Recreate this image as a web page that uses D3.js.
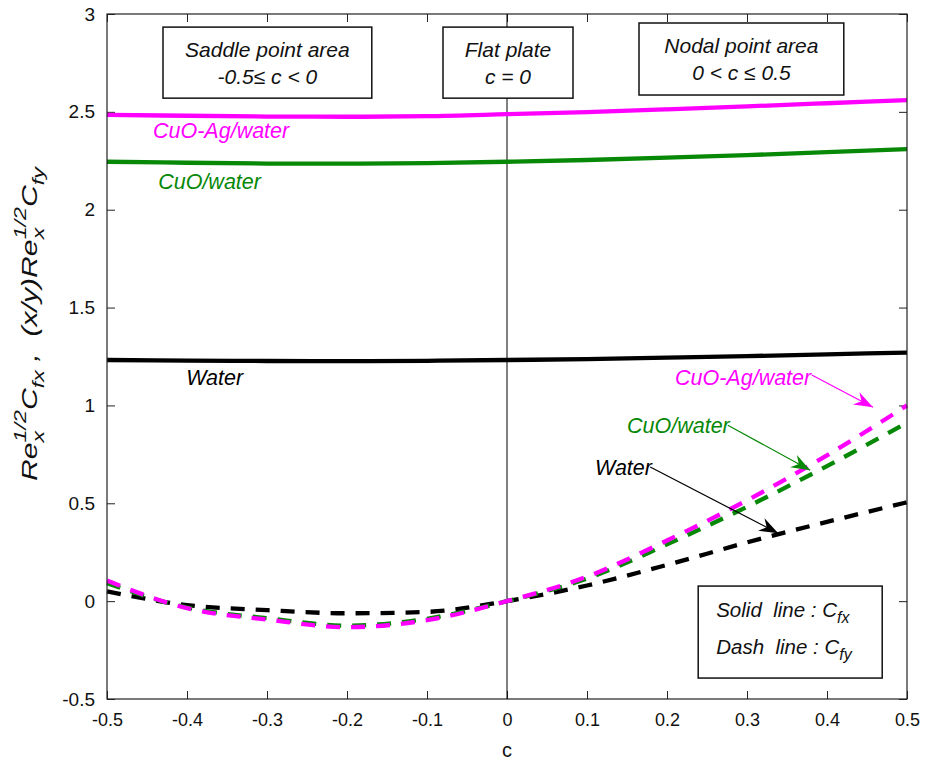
<!DOCTYPE html>
<html>
<head>
<meta charset="utf-8">
<script src="https://cdn.jsdelivr.net/npm/d3@7"></script>
<style>
  body { margin: 0; background: #fff; }
  svg text { font-family: "Liberation Sans", Arial, Helvetica, sans-serif; }
</style>
</head>
<body>
<div id="wrapper"></div>
<script>
// c values
const cValues = [-0.5, -0.4, -0.3, -0.2, -0.1, 0, 0.1, 0.2, 0.3, 0.4, 0.5];

// solid lines : Cfx
const cfxCuOAg = [2.485, 2.48, 2.476, 2.475, 2.478, 2.488, 2.499, 2.513, 2.528, 2.544, 2.56];
const cfxCuO   = [2.245, 2.24, 2.236, 2.235, 2.238, 2.245, 2.254, 2.266, 2.279, 2.294, 2.31];
const cfxWater = [1.232, 1.229, 1.227, 1.226, 1.228, 1.232, 1.237, 1.244, 1.252, 1.261, 1.27];

// dashed lines : Cfy
const cfyCuOAg = [0.105, -0.036, -0.094, -0.133, -0.097, 0, 0.125, 0.31, 0.515, 0.745, 1.0];
const cfyCuO   = [0.092, -0.033, -0.087, -0.125, -0.09, 0, 0.115, 0.29, 0.482, 0.69, 0.912];
const cfyWater = [0.05, -0.02, -0.046, -0.062, -0.055, 0, 0.08, 0.185, 0.3, 0.405, 0.505];

const xTicks = [-0.5, -0.4, -0.3, -0.2, -0.1, 0, 0.1, 0.2, 0.3, 0.4, 0.5];
const yTicks = [-0.5, 0, 0.5, 1, 1.5, 2, 2.5, 3];

const colors = { cuoag: "#ff00ff", cuo: "#078807", water: "#000000" };

const series = [
  { key: "cuoag", vals: cfxCuOAg, dash: false },
  { key: "cuo", vals: cfxCuO, dash: false },
  { key: "water", vals: cfxWater, dash: false },
  { key: "water", vals: cfyWater, dash: true },
  { key: "cuo", vals: cfyCuO, dash: true },
  { key: "cuoag", vals: cfyCuOAg, dash: true },
];

const width = 936, height = 768;
const margin = { left: 107, right: 29, top: 14, bottom: 69 };

const svg = d3.select("#wrapper").append("svg")
  .attr("width", width).attr("height", height);

const x = d3.scaleLinear().domain([-0.5, 0.5]).range([margin.left, width - margin.right]);
const y = d3.scaleLinear().domain([-0.5, 3]).range([height - margin.bottom, margin.top]);

const defs = svg.append("defs");
Object.entries(colors).forEach(([k, col]) => {
  defs.append("marker")
    .attr("id", "arrow-" + k)
    .attr("markerUnits", "userSpaceOnUse")
    .attr("viewBox", "-20 -8 22 16")
    .attr("refX", 0).attr("refY", 0)
    .attr("markerWidth", 22).attr("markerHeight", 16)
    .attr("orient", "auto")
    .append("path")
    .attr("d", "M0,0 L-19,-7 L-13,0 L-19,7 Z")
    .attr("fill", col);
});

// axes (inside ticks, mirrored like the original)
const tickLen = 8;
const axisFont = 18;
const fmt = d => String(d);

svg.append("g")
  .attr("transform", `translate(0,${y(-0.5)})`)
  .call(d3.axisBottom(x).tickValues(xTicks).tickSizeInner(-tickLen).tickSizeOuter(0)
    .tickPadding(14).tickFormat(fmt))
  .call(g => g.select(".domain").remove())
  .call(g => g.selectAll("text").attr("font-size", axisFont).attr("fill", "#111"));

svg.append("g")
  .attr("transform", `translate(0,${y(3)})`)
  .call(d3.axisTop(x).tickValues(xTicks).tickSizeInner(-tickLen).tickSizeOuter(0).tickFormat(""))
  .call(g => g.select(".domain").remove());

svg.append("g")
  .attr("transform", `translate(${x(-0.5)},0)`)
  .call(d3.axisLeft(y).tickValues(yTicks).tickSizeInner(-tickLen).tickSizeOuter(0)
    .tickPadding(12).tickFormat(fmt))
  .call(g => g.select(".domain").remove())
  .call(g => g.selectAll("text").attr("font-size", 19).attr("fill", "#111"));

svg.append("g")
  .attr("transform", `translate(${x(0.5)},0)`)
  .call(d3.axisRight(y).tickValues(yTicks).tickSizeInner(-tickLen).tickSizeOuter(0).tickFormat(""))
  .call(g => g.select(".domain").remove());

svg.selectAll(".tick line").attr("stroke", "#222");

// vertical line at c = 0
svg.append("line")
  .attr("x1", x(0)).attr("x2", x(0))
  .attr("y1", y(3)).attr("y2", y(-0.5))
  .attr("stroke", "#000").attr("stroke-width", 1);

// curves
const line = d3.line()
  .x((d, i) => x(cValues[i]))
  .y(d => y(d))
  .curve(d3.curveMonotoneX);

const plot = svg.append("g");
plot.selectAll("path")
  .data(series)
  .enter()
  .append("path")
  .attr("d", d => line(d.vals))
  .attr("fill", "none")
  .attr("stroke", d => colors[d.key])
  .attr("stroke-width", 4.3)
  .attr("stroke-dasharray", d => d.dash ? "14,11" : null);

// plot frame
svg.append("rect")
  .attr("x", x(-0.5)).attr("y", y(3))
  .attr("width", x(0.5) - x(-0.5)).attr("height", y(-0.5) - y(3))
  .attr("fill", "none").attr("stroke", "#222").attr("stroke-width", 1.2);

// helper: rich text with sub/superscripts, groups drawn side by side
function richText(parent, groups, size, fitLen) {
  const g = parent.append("g");
  let cx = 0;
  groups.forEach(grp => {
    let w = 0;
    grp.forEach(p => {
      const t = g.append("text")
        .attr("x", cx).attr("y", p.dy || 0)
        .attr("font-size", p.s || size)
        .attr("font-style", "italic")
        .attr("fill", p.fill || "#111")
        .style("white-space", "pre")
        .text(p.t);
      w = Math.max(w, t.node().getComputedTextLength());
    });
    cx += w;
  });
  if (fitLen) {
    const k = fitLen / cx;
    g.attr("transform", `translate(${-fitLen / 2},0) scale(${k},1)`);
  }
  return g;
}

// y axis label
const yLab = svg.append("g").attr("transform", "translate(37,324) rotate(-90)");
richText(yLab, [
  [{ t: "Re" }],
  [{ t: "x", s: 17, dy: 7 }, { t: "1/2", s: 17, dy: -11 }],
  [{ t: "C" }],
  [{ t: "fx", s: 17, dy: 7 }],
  [{ t: " ,  (x/y)Re" }],
  [{ t: "x", s: 17, dy: 7 }, { t: "1/2", s: 17, dy: -11 }],
  [{ t: "C" }],
  [{ t: "fy", s: 17, dy: 7 }],
], 22, 314);

// x axis label
svg.append("text")
  .attr("x", x(0)).attr("y", 757)
  .attr("text-anchor", "middle")
  .attr("font-size", 20).attr("fill", "#111")
  .text("c");

// region boxes
const regionBoxes = [
  { x0: -0.43, x1: -0.169, y0: 2.933, y1: 2.57, l1: "Saddle point area", l2: "-0.5\u2264 c < 0" },
  { x0: -0.08, x1: 0.0825, y0: 2.933, y1: 2.57, l1: "Flat plate", l2: "c = 0" },
  { x0: 0.165, x1: 0.421, y0: 2.954, y1: 2.586, l1: "Nodal point area", l2: "0 < c \u2264 0.5" },
];
regionBoxes.forEach(b => {
  svg.append("rect")
    .attr("x", x(b.x0)).attr("y", y(b.y0))
    .attr("width", x(b.x1) - x(b.x0)).attr("height", y(b.y1) - y(b.y0))
    .attr("fill", "#fff").attr("stroke", "#111").attr("stroke-width", 1.5);
  const cx = (x(b.x0) + x(b.x1)) / 2;
  const top = y(b.y0);
  svg.append("text").attr("x", cx).attr("y", top + 30)
    .attr("text-anchor", "middle").attr("font-size", 21).attr("font-style", "italic")
    .attr("fill", "#111").text(b.l1);
  svg.append("text").attr("x", cx).attr("y", top + 57)
    .attr("text-anchor", "middle").attr("font-size", 21).attr("font-style", "italic")
    .attr("fill", "#111").text(b.l2);
});

// legend box
const lg = { x0: 0.239, x1: 0.469, y0: 0.077, y1: -0.393 };
svg.append("rect")
  .attr("x", x(lg.x0)).attr("y", y(lg.y0))
  .attr("width", x(lg.x1) - x(lg.x0)).attr("height", y(lg.y1) - y(lg.y0))
  .attr("fill", "#fff").attr("stroke", "#111").attr("stroke-width", 1.5);
richText(svg.append("g").attr("transform", `translate(${x(lg.x0) + 18},${y(lg.y0) + 31})`), [
  [{ t: "Solid  line : C" }], [{ t: "fx", s: 16, dy: 6 }],
], 20.5);
richText(svg.append("g").attr("transform", `translate(${x(lg.x0) + 18},${y(lg.y0) + 68})`), [
  [{ t: "Dash  line : C" }], [{ t: "fy", s: 16, dy: 6 }],
], 20.5);

// curve labels
const labels = [
  { key: "cuoag", t: "CuO-Ag/water", x: -0.4425, y: 2.366 },
  { key: "cuo", t: "CuO/water", x: -0.436, y: 2.105 },
  { key: "water", t: "Water", x: -0.401, y: 1.104 },
  { key: "cuoag", t: "CuO-Ag/water", x: 0.21, y: 1.104 },
  { key: "cuo", t: "CuO/water", x: 0.15, y: 0.858 },
  { key: "water", t: "Water", x: 0.11, y: 0.644 },
];
svg.selectAll(".curve-label")
  .data(labels)
  .enter()
  .append("text")
  .attr("class", "curve-label")
  .attr("x", d => x(d.x)).attr("y", d => y(d.y))
  .attr("font-size", 21.5).attr("font-style", "italic")
  .attr("fill", d => colors[d.key])
  .text(d => d.t);

// arrows
const arrows = [
  { key: "cuoag", x1: 0.381, y1: 1.155, x2: 0.4575, y2: 0.991 },
  { key: "cuo", x1: 0.276, y1: 0.899, x2: 0.379, y2: 0.669 },
  { key: "water", x1: 0.179, y1: 0.685, x2: 0.339, y2: 0.347 },
];
svg.selectAll(".arrow")
  .data(arrows)
  .enter()
  .append("line")
  .attr("class", "arrow")
  .attr("x1", d => x(d.x1)).attr("y1", d => y(d.y1))
  .attr("x2", d => x(d.x2)).attr("y2", d => y(d.y2))
  .attr("stroke", d => colors[d.key]).attr("stroke-width", 1.2)
  .attr("marker-end", d => `url(#arrow-${d.key})`);
</script>
</body>
</html>
